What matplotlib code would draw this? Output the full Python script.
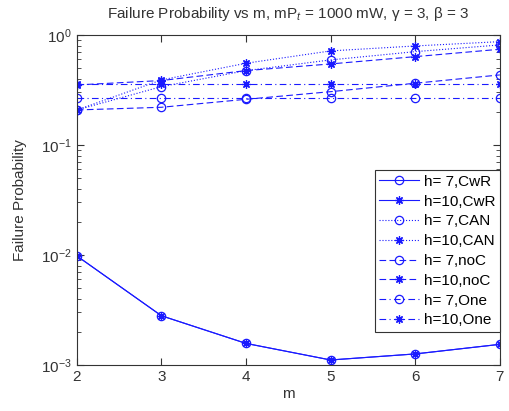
import numpy as np
from matplotlib import pyplot as plt

plt.rcParams['font.family'] = ['Liberation Sans', 'DejaVu Sans']
plt.rcParams['mathtext.fontset'] = 'custom'
plt.rcParams['mathtext.rm'] = 'Liberation Sans'
plt.rcParams['mathtext.it'] = 'Liberation Sans:italic'

m = [2, 3, 4, 5, 6, 7]
# failure probability
cwr_h7 = [0.0098, 0.0028, 0.00157, 0.00111, 0.00126, 0.00154]
cwr_h10 = [0.0098, 0.0028, 0.00157, 0.00111, 0.00126, 0.00154]
can_h7 = [0.208, 0.339, 0.474, 0.593, 0.705, 0.811]
can_h10 = [0.208, 0.390, 0.553, 0.716, 0.794, 0.869]
noc_h7 = [0.208, 0.220, 0.260, 0.305, 0.364, 0.433]
noc_h10 = [0.351, 0.385, 0.474, 0.545, 0.635, 0.741]
one_h7 = [0.266, 0.266, 0.266, 0.266, 0.266, 0.266]
one_h10 = [0.358, 0.358, 0.358, 0.358, 0.358, 0.358]

col = '#1a1aff'
star = (8, 2, 0)  # matlab style asterisk
fig = plt.figure(figsize=(5.09, 4.11), dpi=100)
ax = fig.add_axes([0.151, 0.112, 0.831, 0.803])

kw = dict(color=col, linewidth=0.8, markersize=6, markerfacecolor='none', markeredgewidth=0.9)
ax.semilogy(m, cwr_h7, '-', marker='o', label='h= 7,CwR', **kw)
ax.semilogy(m, cwr_h10, '-', marker=star, label='h=10,CwR', **kw)
ax.semilogy(m, can_h7, ':', marker='o', label='h= 7,CAN', **kw)
ax.semilogy(m, can_h10, ':', marker=star, label='h=10,CAN', **kw)
ax.semilogy(m, noc_h7, '--', marker='o', label='h= 7,noC', dashes=(6, 3), **kw)
ax.semilogy(m, noc_h10, '--', marker=star, label='h=10,noC', dashes=(6, 3), **kw)
ax.semilogy(m, one_h7, '-.', marker='o', label='h= 7,One', dashes=(6, 3, 1, 3), **kw)
ax.semilogy(m, one_h10, '-.', marker=star, label='h=10,One', dashes=(6, 3, 1, 3), **kw)

ax.set_xlim(2, 7)
ax.set_ylim(1e-3, 1)
ax.set_xticks(m)
ax.tick_params(which='both', direction='in', top=True, right=True, labelsize=11, colors='#333333', labelcolor='#333333')
ax.tick_params(which='major', length=5)
ax.tick_params(which='minor', length=3)
for s in ax.spines.values():
    s.set_color('#333333')

ax.set_xlabel('m', fontsize=11, color='#333333', labelpad=2)
ax.set_ylabel('Failure Probability', fontsize=11, color='#333333', labelpad=10)
ax.set_title('Failure Probability vs m, mP$_t$ = 1000 mW, γ = 3, β = 3', fontsize=11, color='#333333', pad=12)

leg = ax.legend(loc='lower right', bbox_to_anchor=(1.0, 0.1), fontsize=11, handlelength=2.6,
                fancybox=False, framealpha=1, edgecolor='#333333', borderpad=0.3,
                labelspacing=0.38, handletextpad=0.3, borderaxespad=0)
leg.get_frame().set_linewidth(0.8)

plt.savefig('out.png')
